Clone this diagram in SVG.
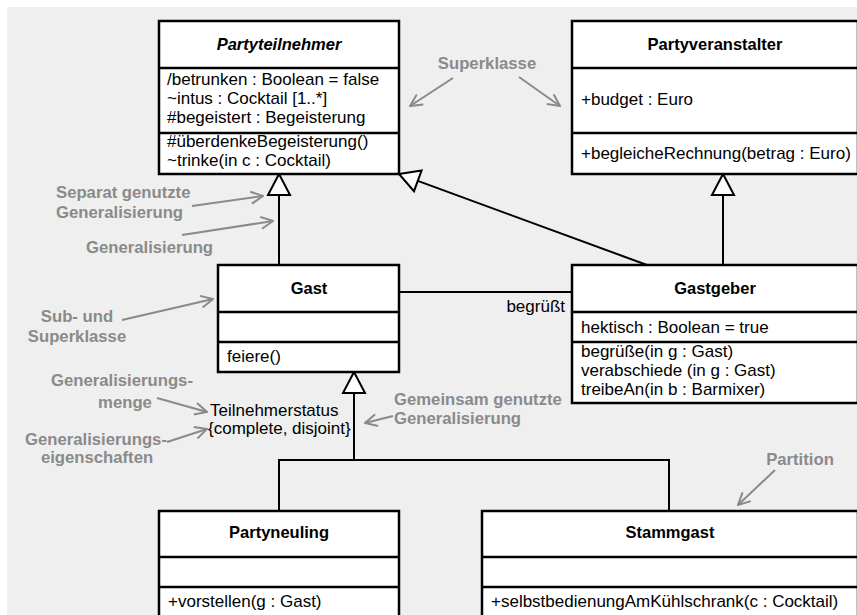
<svg xmlns="http://www.w3.org/2000/svg" width="857" height="615" viewBox="0 0 857 615">
  <defs>
    <style>
      .box { fill: #ffffff; stroke: #000000; stroke-width: 2.5; }
      .sep { stroke: #000000; stroke-width: 2.5; }
      .edge { fill: none; stroke: #000000; stroke-width: 2; }
      .tri { fill: #ffffff; stroke: #000000; stroke-width: 2; stroke-linejoin: miter; }
      .t { font-family: "Liberation Sans", Arial, sans-serif; font-size: 17px; fill: #000000; }
      .name { font-family: "Liberation Sans", Arial, sans-serif; font-size: 16.5px; font-weight: bold; fill: #000000; text-anchor: middle; }
      .abstract { font-style: italic; }
      .note { font-family: "Liberation Sans", Arial, sans-serif; font-size: 16.7px; font-weight: bold; fill: #8a8a8a; }
      .mid { text-anchor: middle; }
      .pointer { fill: none; stroke: #8a8a8a; stroke-width: 2; marker-end: url(#open); }
    </style>
    <marker id="open" viewBox="0 0 14 14" refX="13" refY="7" markerWidth="14" markerHeight="14" markerUnits="userSpaceOnUse" orient="auto">
      <path d="M1,1 L13,7 L1,13" fill="none" stroke="#8a8a8a" stroke-width="2"/>
    </marker>
  </defs>

  <!-- canvas -->
  <rect x="0" y="0" width="857" height="615" fill="#ffffff"/>
  <rect x="7" y="7" width="850" height="608" fill="#efefef"/>

  <!-- connectors -->
  <g id="connectors">
    <!-- Gast to Partyteilnehmer -->
    <line class="edge" x1="279" y1="265" x2="279" y2="195"/>
    <polygon class="tri" points="279,174 268,195 290,195"/>
    <!-- Gastgeber to Partyveranstalter -->
    <line class="edge" x1="723" y1="265" x2="723" y2="195"/>
    <polygon class="tri" points="723,174 712,195 734,195"/>
    <!-- Gastgeber to Partyteilnehmer -->
    <line class="edge" x1="647" y1="265" x2="417.8" y2="180.9"/>
    <polygon class="tri" points="399,174 421.6,170.6 414,191.2"/>
    <!-- association begrüßt -->
    <line class="edge" x1="399" y1="292" x2="572" y2="292"/>
    <text class="t" x="565" y="312" text-anchor="end">begrüßt</text>
    <!-- shared generalization Gast -->
    <polygon class="tri" points="354,372 343,393 365,393"/>
    <polyline class="edge" points="354,393 354,460"/>
    <polyline class="edge" points="279,511 279,460 669,460 669,511"/>
    <text class="t" x="210" y="416">Teilnehmerstatus</text>
    <text class="t" x="208" y="434">{complete, disjoint}</text>
  </g>

  <!-- classes -->
  <g id="Partyteilnehmer">
    <rect class="box" x="159" y="21" width="240" height="153"/>
    <line class="sep" x1="159" y1="68" x2="399" y2="68"/>
    <line class="sep" x1="159" y1="133" x2="399" y2="133"/>
    <text class="name abstract" x="279" y="50">Partyteilnehmer</text>
    <text class="t" x="167" y="85">/betrunken : Boolean = false</text>
    <text class="t" x="167" y="104">~intus : Cocktail [1..*]</text>
    <text class="t" x="167" y="123">#begeistert : Begeisterung</text>
    <text class="t" x="167" y="147">#überdenkeBegeisterung()</text>
    <text class="t" x="167" y="166">~trinke(in c : Cocktail)</text>
  </g>

  <g id="Partyveranstalter">
    <rect class="box" x="572" y="21" width="286" height="153"/>
    <line class="sep" x1="572" y1="68" x2="858" y2="68"/>
    <line class="sep" x1="572" y1="133" x2="858" y2="133"/>
    <text class="name" x="715" y="50">Partyveranstalter</text>
    <text class="t" x="581" y="105">+budget : Euro</text>
    <text class="t" x="581" y="159">+begleicheRechnung(betrag : Euro)</text>
  </g>

  <g id="Gast">
    <rect class="box" x="218" y="265" width="181" height="107"/>
    <line class="sep" x1="218" y1="312" x2="399" y2="312"/>
    <line class="sep" x1="218" y1="342" x2="399" y2="342"/>
    <text class="name" x="309" y="294">Gast</text>
    <text class="t" x="227" y="362">feiere()</text>
  </g>

  <g id="Gastgeber">
    <rect class="box" x="572" y="265" width="286" height="138"/>
    <line class="sep" x1="572" y1="312" x2="858" y2="312"/>
    <line class="sep" x1="572" y1="342" x2="858" y2="342"/>
    <text class="name" x="715" y="294">Gastgeber</text>
    <text class="t" x="581" y="333">hektisch : Boolean = true</text>
    <text class="t" x="581" y="357">begrüße(in g : Gast)</text>
    <text class="t" x="581" y="376">verabschiede (in g : Gast)</text>
    <text class="t" x="581" y="395">treibeAn(in b : Barmixer)</text>
  </g>

  <g id="Partyneuling">
    <rect class="box" x="159" y="511" width="240" height="120"/>
    <line class="sep" x1="159" y1="557" x2="399" y2="557"/>
    <line class="sep" x1="159" y1="587" x2="399" y2="587"/>
    <text class="name" x="279" y="538">Partyneuling</text>
    <text class="t" x="168" y="607">+vorstellen(g : Gast)</text>
  </g>

  <g id="Stammgast">
    <rect class="box" x="482" y="511" width="376" height="120"/>
    <line class="sep" x1="482" y1="557" x2="858" y2="557"/>
    <line class="sep" x1="482" y1="587" x2="858" y2="587"/>
    <text class="name" x="670" y="538">Stammgast</text>
    <text class="t" x="491" y="607">+selbstbedienungAmKühlschrank(c : Cocktail)</text>
  </g>

  <!-- explanatory notes -->
  <g id="notes">
    <text class="note mid" x="487" y="69">Superklasse</text>
    <line class="pointer" x1="453" y1="78" x2="410" y2="106"/>
    <line class="pointer" x1="519" y1="77" x2="560" y2="106"/>

    <text class="note" x="56" y="198">Separat genutzte</text>
    <text class="note" x="56" y="218">Generalisierung</text>
    <line class="pointer" x1="192" y1="206" x2="263" y2="196"/>

    <text class="note" x="86" y="253">Generalisierung</text>
    <line class="pointer" x1="182" y1="235" x2="273" y2="221"/>

    <text class="note mid" x="77" y="322">Sub- und</text>
    <text class="note mid" x="77" y="342">Superklasse</text>
    <line class="pointer" x1="122" y1="320" x2="213" y2="299"/>

    <text class="note mid" x="122" y="386">Generalisierungs-</text>
    <text class="note mid" x="125" y="408">menge</text>
    <line class="pointer" x1="157" y1="398" x2="207" y2="412"/>

    <text class="note mid" x="96" y="445">Generalisierungs-</text>
    <text class="note mid" x="97" y="463">eigenschaften</text>
    <line class="pointer" x1="167" y1="442" x2="207" y2="429"/>

    <text class="note" x="394" y="405">Gemeinsam genutzte</text>
    <text class="note" x="394" y="424">Generalisierung</text>
    <line class="pointer" x1="393" y1="416" x2="365" y2="423"/>

    <text class="note mid" x="800" y="465">Partition</text>
    <line class="pointer" x1="775" y1="470" x2="738" y2="505"/>
  </g>
</svg>
